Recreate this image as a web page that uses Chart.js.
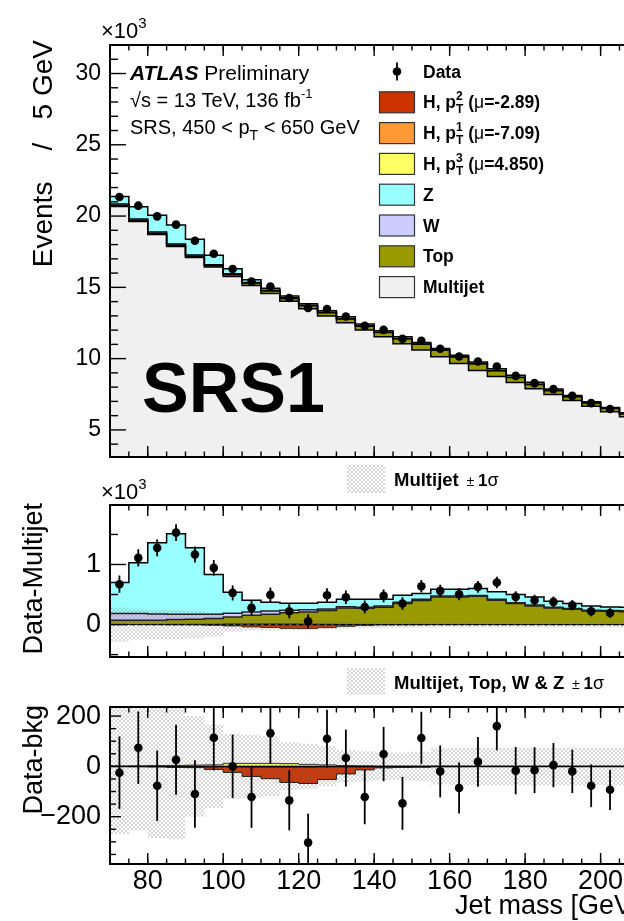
<!DOCTYPE html>
<html>
<head>
<meta charset="utf-8">
<script src="https://cdn.jsdelivr.net/npm/chart.js@4.4.1/dist/chart.umd.min.js"></script>
<style>
html,body{margin:0;padding:0;background:#fff;}
body{width:624px;height:921px;overflow:hidden;position:relative;}
canvas{position:absolute;left:0;}
</style>
</head>
<body>
<canvas id="cTop" width="624" height="460" style="top:0px"></canvas>
<canvas id="cMid" width="624" height="205" style="top:460px"></canvas>
<canvas id="cBot" width="624" height="256" style="top:665px"></canvas>
<script>
// ---------------- DATA ----------------
// 5 GeV jet-mass bins (lower edges ... last upper edge)
const binEdges = [70,75,80,85,90,95,100,105,110,115,120,125,130,135,140,145,150,155,160,165,170,175,180,185,190,195,200,205,210];
const binCenters = [72.5,77.5,82.5,87.5,92.5,97.5,102.5,107.5,112.5,117.5,122.5,127.5,132.5,137.5,142.5,147.5,152.5,157.5,162.5,167.5,172.5,177.5,182.5,187.5,192.5,197.5,202.5];

// tick labels
const xMajorTicks = [80,100,120,140,160,180,200];
const topYTicks = [5,10,15,20,25,30];
const topYMinor = [4,6,7,8,9,11,12,13,14,16,17,18,19,21,22,23,24,26,27,28,29,31];
const midYTicks = [0,1];
const midYMinor = [-0.5,0.5,1.5];
const botYTicks = [-200,0,200];
const botYMinor = [-350,-300,-250,-150,-100,-50,50,100,150];

// Top panel: events / 5 GeV  (x10^3)
const dataK = [21.34,20.73,19.98,19.40,18.27,17.36,16.29,15.41,15.06,14.25,13.55,13.48,12.96,12.30,12.02,11.39,11.25,10.69,10.15,9.80,9.45,8.79,8.28,7.86,7.39,6.88,6.47];
const multijetK = [20.67,19.62,18.70,17.87,17.10,16.42,15.76,15.13,14.57,14.03,13.50,12.99,12.51,12.01,11.54,11.04,10.61,10.13,9.65,9.17,8.75,8.33,7.88,7.48,7.07,6.66,6.28,5.92];

// Middle panel components (x10^3)
const topK = [0.070,0.070,0.070,0.085,0.090,0.100,0.125,0.155,0.170,0.195,0.210,0.235,0.275,0.270,0.290,0.350,0.400,0.460,0.460,0.470,0.405,0.350,0.310,0.277,0.255,0.227,0.222,0.215];
const wK = [0.113,0.113,0.105,0.087,0.080,0.072,0.065,0.055,0.055,0.043,0.035,0.025,0.022,0.020,0.020,0.020,0.020,0.015,0.015,0.015,0.015,0.015,0.015,0.013,0.013,0.013,0.013,0.013];
const zK = [0.517,0.847,1.185,1.338,1.107,0.661,0.348,0.195,0.147,0.117,0.110,0.112,0.125,0.130,0.110,0.118,0.096,0.113,0.113,0.115,0.124,0.135,0.135,0.098,0.082,0.070,0.058,0.060];
const dataMinusMultijetK = [0.672,1.110,1.277,1.530,1.167,0.944,0.527,0.277,0.494,0.222,0.055,0.488,0.455,0.293,0.477,0.350,0.638,0.560,0.505,0.627,0.700,0.460,0.405,0.377,0.322,0.222,0.193];
const multijetUncK = [0.28,0.25,0.24,0.24,0.23,0.20,0.12,0.10,0.10,0.09,0.08,0.07,0.065,0.06,0.06,0.055,0.05,0.05,0.05,0.05,0.05,0.05,0.05,0.05,0.05,0.05,0.05,0.05];

// Bottom panel (events)
const dataMinusBkg = [-25,74,-77,26,-110,114,0,-122,132,-135,-303,110,33,-122,49,-147,113,-20,-86,18,160,-17,-15,5,-20,-77,-93];
const statErr = [144,144,140,139,134,130,126,122,121,119,115,115,113,108,108,105,104,103,101,99,96,94,91,88,86,85,80];
const bkgUnc = [270,255,285,290,200,165,130,125,120,95,90,80,65,60,55,55,58,72,75,75,75,75,75,75,75,75,75,75];
const hPt1 = [0,0,0,-1,-1,-2,-3,-4,-4,-4,-4,-3,-3,-2,-1,-1,-1,0,0,0,0,0,0,0,0,0,0,0];
const hPt2 = [0,-1,-2,-3,-4,-10,-21,-36,-45,-60,-64,-49,-27,-12,-5,-3,-2,-1,-1,0,0,0,0,0,0,0,0,0];
const hPt3 = [1,2,3,4,5,6,12,12,12,11,8,6,3,2,1,1,1,1,1,0,0,0,0,0,0,0,0,0];

// ---------------- STYLE ----------------
const FONT = "'Liberation Sans', Arial, Helvetica, sans-serif";
const C = {mj:'#f0f0f0', z:'#99ffff', w:'#ccccff', top:'#999900', h2:'#cc3300', h1:'#ff9933', h3:'#ffff66'};
const X_MIN = 70, X_MAX = 206.2;

Chart.defaults.font.family = FONT;
Chart.defaults.color = '#000';

function makeHatch(){
  const c = document.createElement('canvas'); c.width = 4; c.height = 4;
  const g = c.getContext('2d');
  g.fillStyle = 'rgba(120,120,120,0.30)';
  [[0,0],[1,1],[2,2],[3,3],[3,0],[2,1],[1,2],[0,3]].forEach(p=>g.fillRect(p[0],p[1],1,1));
  return g.createPattern(c,'repeat');
}
const hatch = makeHatch();

// ---------------- helpers ----------------
const sum = (...arrs) => arrs[0].map((_,i)=>arrs.reduce((s,a)=>s+a[i],0));
const scaleArr = (a,f) => a.map(v=>v*f);
const neg = a => a.map(v=>-v);
function stepPoints(vals){ return binEdges.map((e,i)=>({x:e, y: vals[Math.min(i, vals.length-1)]})); }
function stepDs(vals, o){
  o = o || {};
  return { type:'line', data: stepPoints(vals), stepped:true, fill: o.fill===undefined?false:o.fill,
    backgroundColor: o.bg || 'rgba(0,0,0,0)', borderColor: o.border || 'rgba(0,0,0,0)',
    borderWidth: o.bw===undefined?1.5:o.bw, pointRadius:0, order: o.order===undefined?5:o.order, borderDash: o.dash || [] };
}
function pointsDs(vals, errs){
  return { type:'line', data: binCenters.map((c,i)=>({x:c, y:vals[i]})), showLine:false,
    pointRadius:4.3, pointBackgroundColor:'#000', pointBorderColor:'#000', pointBorderWidth:0,
    errorBars: errs, order:0 };
}
function xScale(show){
  const s = { type:'linear', min:X_MIN, max:X_MAX, display:show,
    grid:{display:false, drawTicks:false}, border:{display:false},
    afterBuildTicks: sc=>{ sc.ticks = xMajorTicks.map(v=>({value:v})); },
    ticks:{font:{size:27, family:FONT}, padding:1, autoSkip:false, maxRotation:0, minRotation:0, color:'#000'} };
  if (show) s.afterFit = sc=>{ sc.height = 57; sc.paddingLeft = 0; sc.paddingRight = 0; };
  return s;
}
function yScale(min, max, ticks, size, fmt){
  return { type:'linear', min, max, position:'left',
    grid:{display:false, drawTicks:false}, border:{display:false},
    afterBuildTicks: s=>{ s.ticks = ticks.map(v=>({value:v})); },
    afterFit: s=>{ s.width = 110; s.paddingTop = 0; s.paddingBottom = 0; },
    ticks:{font:{size:size, family:FONT}, padding:9, color:'#000', callback: fmt } };
}
function rich(ctx, x, y, parts){
  let cx = x;
  for (const p of parts){ ctx.font = p[1]; ctx.fillText(p[0], cx, y + (p[2]||0)); if (p[3]!==false) cx += ctx.measureText(p[0]).width; }
  return cx;
}
function vText(ctx, text, x, yEnd, font){
  ctx.save(); ctx.translate(x, yEnd); ctx.rotate(-Math.PI/2);
  ctx.textAlign='right'; ctx.textBaseline='alphabetic'; ctx.font=font; ctx.fillStyle='#000';
  ctx.fillText(text,0,0); ctx.restore();
}
function framePlugin(cfg){
  return { id:'frame'+Math.random().toString(36).slice(2),
    afterDatasetsDraw(chart){
      const {ctx, chartArea:a, scales:{x,y}} = chart;
      ctx.save();
      ctx.beginPath(); ctx.rect(a.left, a.top, a.right-a.left, a.bottom-a.top); ctx.clip();
      chart.data.datasets.forEach(ds=>{
        if(!ds.errorBars) return;
        ctx.strokeStyle='#000'; ctx.lineWidth=1.8;
        ds.data.forEach((p,i)=>{ const e=ds.errorBars[i]; const px=x.getPixelForValue(p.x);
          ctx.beginPath(); ctx.moveTo(px, y.getPixelForValue(p.y-e)); ctx.lineTo(px, y.getPixelForValue(p.y+e)); ctx.stroke(); });
      });
      ctx.restore();
      ctx.save();
      ctx.strokeStyle='#000';
      ctx.lineWidth=1.4;
      const xt=(vals,len)=>vals.forEach(v=>{ const px=x.getPixelForValue(v); if(px<=a.left+1||px>a.right) return;
        ctx.beginPath(); ctx.moveTo(px,a.bottom); ctx.lineTo(px,a.bottom-len); ctx.moveTo(px,a.top); ctx.lineTo(px,a.top+len); ctx.stroke(); });
      xt(binEdges, 5.5); xt(xMajorTicks, 11);
      const yt=(vals,len)=>vals.forEach(v=>{ const py=y.getPixelForValue(v); if(py<a.top||py>a.bottom) return;
        ctx.beginPath(); ctx.moveTo(a.left,py); ctx.lineTo(a.left+len,py); ctx.stroke(); });
      yt(cfg.yMinor, cfg.yMinorLen); yt(cfg.yMajor, cfg.yMajorLen);
      ctx.lineWidth=2;
      ctx.beginPath(); ctx.moveTo(a.right+5,a.top); ctx.lineTo(a.left,a.top); ctx.lineTo(a.left,a.bottom); ctx.lineTo(a.right+5,a.bottom); ctx.stroke();
      ctx.restore();
      if (cfg.text) { ctx.save(); ctx.fillStyle='#000'; ctx.textBaseline='alphabetic'; ctx.textAlign='left'; cfg.text(ctx, chart); ctx.restore(); }
    } };
}
function baseOptions(pad, xs, ys){
  return { responsive:false, animation:false, events:[],
    layout:{padding:pad, autoPadding:false},
    plugins:{legend:{display:false}, tooltip:{enabled:false}, filler:{drawTime:'beforeDatasetsDraw', propagate:false}},
    scales:{x:xs, y:ys} };
}

// ---------------- TOP PANEL ----------------
const sTop = sum(multijetK, topK);
const sW = sum(multijetK, topK, wK);
const sZ = sum(multijetK, topK, wK, zK);
const B = 'bold 17.5px '+FONT, R = '17.5px '+FONT, SB = 'bold 12px '+FONT;
function hLabel(ctx, x, y, sup, mu){
  let cx = rich(ctx, x, y, [['H, p', B]]);
  rich(ctx, cx, y, [[sup, SB, -8, false]]);
  cx = rich(ctx, cx, y, [['T', SB, 5]]);
  rich(ctx, cx, y, [[' (', B], ['\u03bc', R], ['='+mu+')', B]]);
}
const legendRows = [
  {kind:'data', label:'Data'},
  {kind:'box', color:C.h2, h:['2','-2.89']},
  {kind:'box', color:C.h1, h:['1','-7.09']},
  {kind:'box', color:C.h3, h:['3','4.850']},
  {kind:'box', color:C.z, label:'Z'},
  {kind:'box', color:C.w, label:'W'},
  {kind:'box', color:C.top, label:'Top'},
  {kind:'box', color:C.mj, label:'Multijet'}
];
new Chart(document.getElementById('cTop'), {
  type:'line',
  data:{ datasets:[
    pointsDs(dataK, scaleArr(statErr, 0.001)),
    stepDs(sZ, {fill:2, bg:C.z, border:'#000', order:1}),
    stepDs(sW, {fill:3, bg:C.w, border:'#000', order:2}),
    stepDs(sTop, {fill:4, bg:C.top, border:'#000', order:3}),
    stepDs(multijetK, {fill:'start', bg:C.mj, border:'#000', order:4})
  ]},
  options: baseOptions({top:45, bottom:3, left:0, right:0}, xScale(false),
    yScale(3.1, 32, topYTicks, 23, v=>String(v))),
  plugins:[framePlugin({yMajor:topYTicks, yMinor:topYMinor, yMajorLen:16, yMinorLen:8, text:(ctx)=>{
    rich(ctx, 101, 38, [['\u00d710', '22px '+FONT], ['3', '15px '+FONT, -10]]);
    rich(ctx, 130, 80, [['ATLAS', 'italic bold 21px '+FONT], [' Preliminary', '21px '+FONT]]);
    rich(ctx, 130, 107, [['\u221as = 13 TeV, 136 fb', '20px '+FONT], ['-1', '13px '+FONT, -9]]);
    let cx = rich(ctx, 130, 134, [['SRS, 450 < p', '20px '+FONT]]);
    rich(ctx, cx, 134, [['T', '14px '+FONT, 6], [' < 650 GeV', '20px '+FONT]]);
    ctx.font = 'bold 70px '+FONT; ctx.fillText('SRS1', 142, 412);
    legendRows.forEach((r,i)=>{
      const yc = 71.5 + i*30.8;
      if (r.kind==='data') {
        ctx.fillStyle='#000'; ctx.beginPath(); ctx.arc(397, yc, 4.3, 0, 2*Math.PI); ctx.fill();
        ctx.lineWidth=1.8; ctx.beginPath(); ctx.moveTo(397, yc-9); ctx.lineTo(397, yc+9); ctx.stroke();
      } else {
        ctx.fillStyle=r.color; ctx.fillRect(379.5, yc-10.5, 35, 21);
        ctx.strokeStyle='#333'; ctx.lineWidth=1.2; ctx.strokeRect(379.5, yc-10.5, 35, 21);
      }
      ctx.fillStyle='#000';
      const by = yc + 6;
      if (r.h) hLabel(ctx, 423, by, r.h[0], r.h[1]);
      else { ctx.font = B; ctx.fillText(r.label, 423, by); }
    });
    vText(ctx, 'Events    /   5 GeV', 52, 40, '28px '+FONT);
  }})]
});

// ---------------- MIDDLE PANEL ----------------
const mTop = topK;
const mW = sum(topK, wK);
const mZ = sum(topK, wK, zK);
const mH1 = scaleArr(hPt1, 0.001);
const mH12 = scaleArr(sum(hPt1, hPt2), 0.001);
const mH3 = scaleArr(hPt3, 0.001);
const zeroLine = binEdges.map(()=>0);
new Chart(document.getElementById('cMid'), {
  type:'line',
  data:{ datasets:[
    pointsDs(dataMinusMultijetK, scaleArr(statErr, 0.001)),
    stepDs(zeroLine, {border:'#000', bw:1.2, dash:[4,3], order:1}),
    stepDs(multijetUncK, {fill:3, bg:hatch, bw:0.01, order:2}),
    stepDs(neg(multijetUncK), {bw:0.01, order:3}),
    stepDs(mZ, {fill:5, bg:C.z, border:'#000', order:4}),
    stepDs(mW, {fill:6, bg:C.w, border:'#222', order:5}),
    stepDs(mTop, {fill:'origin', bg:C.top, border:'#222', order:6}),
    stepDs(mH1, {fill:'origin', bg:C.h1, border:'#222', bw:0.8, order:7}),
    stepDs(mH12, {fill:7, bg:C.h2, border:'#222', bw:0.8, order:8}),
    stepDs(mH3, {fill:'origin', bg:C.h3, border:'#222', bw:0.8, order:9})
  ]},
  options: baseOptions({top:45, bottom:8, left:0, right:0}, xScale(false),
    yScale(-0.54, 1.99, midYTicks, 27, v=>String(v))),
  plugins:[framePlugin({yMajor:midYTicks, yMinor:midYMinor, yMajorLen:16, yMinorLen:8, text:(ctx)=>{
    ctx.fillStyle=hatch; ctx.fillRect(347, 5, 38, 28);
    ctx.fillStyle='#000';
    rich(ctx, 394, 26, [['Multijet', 'bold 18.5px '+FONT], ['  \u00b1 ', '14px '+FONT], ['1', 'bold 17px '+FONT], ['\u03c3', '18px '+FONT]]);
    rich(ctx, 101, 39, [['\u00d710', '22px '+FONT], ['3', '15px '+FONT, -10]]);
    vText(ctx, 'Data-Multijet', 42, 43, '27px '+FONT);
  }})]
});

// ---------------- BOTTOM PANEL ----------------
new Chart(document.getElementById('cBot'), {
  type:'line',
  data:{ datasets:[
    pointsDs(dataMinusBkg, statErr),
    stepDs(zeroLine, {border:'#000', bw:1.5, order:1}),
    stepDs(bkgUnc, {fill:3, bg:hatch, bw:0.01, order:2}),
    stepDs(neg(bkgUnc), {bw:0.01, order:3}),
    stepDs(hPt3, {fill:'origin', bg:C.h3, border:'#333', bw:1, order:4}),
    stepDs(hPt1, {fill:'origin', bg:C.h1, border:'#333', bw:1, order:5}),
    stepDs(sum(hPt1, hPt2), {fill:5, bg:C.h2, border:'#222', bw:1, order:6})
  ]},
  options: baseOptions({top:42, bottom:0, left:0, right:0}, xScale(true),
    yScale(-388, 236, botYTicks, 27, v=>(v<0?'\u2212'+Math.abs(v):String(v)))),
  plugins:[framePlugin({yMajor:botYTicks, yMinor:botYMinor, yMajorLen:11, yMinorLen:6, text:(ctx)=>{
    ctx.fillStyle=hatch; ctx.fillRect(347, 3, 38, 27);
    ctx.fillStyle='#000';
    rich(ctx, 394, 24, [['Multijet, Top, W & Z', 'bold 18.5px '+FONT], ['  \u00b1 ', '14px '+FONT], ['1', 'bold 17px '+FONT], ['\u03c3', '18px '+FONT]]);
    vText(ctx, 'Data-bkg', 42, 40, '27px '+FONT);
    ctx.font = '27px '+FONT; ctx.fillText('Jet mass [GeV]', 455, 249);
  }})]
});
</script>
</body>
</html>
